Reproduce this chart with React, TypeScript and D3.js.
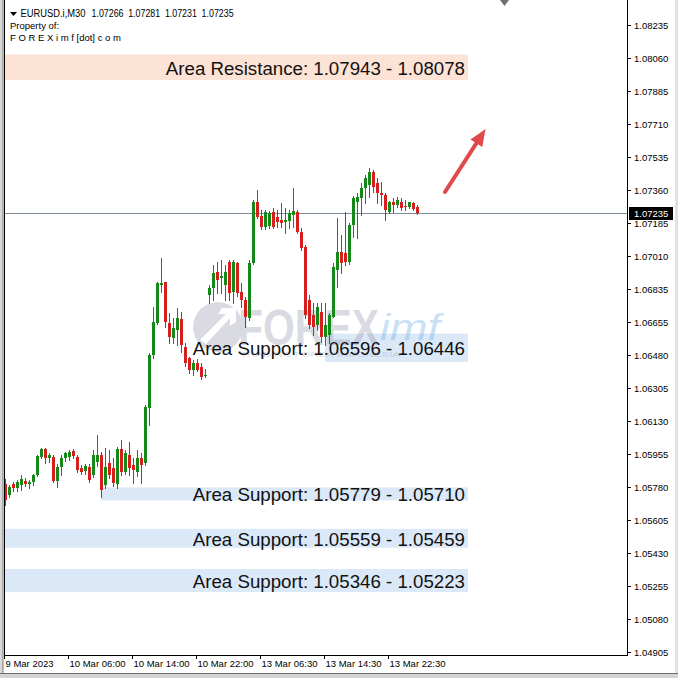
import * as d3 from "d3";

// EURUSD.i M30 candles (oldest first)
const opens = [
  1.05797, 1.05739, 1.05797, 1.05776, 1.05792, 1.05813, 1.05797, 1.05808, 1.05845, 1.05941,
  1.05983, 1.05936, 1.05941, 1.05813, 1.05888, 1.05936, 1.05941, 1.05973, 1.05941, 1.05882,
  1.05866, 1.05888, 1.05845, 1.05915, 1.05951, 1.05792, 1.05909, 1.05882, 1.05797, 1.05983,
  1.05861, 1.05951, 1.05899, 1.05861, 1.05936, 1.05909, 1.06201, 1.06482, 1.06652, 1.06854,
  1.06870, 1.06652, 1.06573, 1.06615, 1.06674, 1.06525, 1.06467, 1.06403, 1.06440, 1.06419,
  1.06371, 1.06801, 1.06838, 1.06923, 1.06891, 1.06854, 1.06976, 1.06817, 1.06971, 1.06817,
  1.06775, 1.06679, 1.06971, 1.07295, 1.07220, 1.07162, 1.07167, 1.07242, 1.07215, 1.07199,
  1.07189, 1.07194, 1.07226, 1.07242, 1.07136, 1.07056, 1.06775, 1.06695, 1.06642, 1.06711,
  1.06578, 1.06589, 1.06684, 1.06934, 1.07029, 1.07024, 1.06976, 1.07173, 1.07295, 1.07316,
  1.07369, 1.07385, 1.07454, 1.07396, 1.07343, 1.07332, 1.07242, 1.07295, 1.07279, 1.07295,
  1.07274, 1.07268, 1.07290, 1.07266,
];
const highs = [
  1.05824, 1.05792, 1.05808, 1.05819, 1.05845, 1.05829, 1.05819, 1.05850, 1.05951, 1.05989,
  1.05989, 1.05962, 1.05951, 1.05904, 1.05951, 1.05967, 1.05978, 1.05983, 1.05951, 1.05898,
  1.05904, 1.05904, 1.05978, 1.06058, 1.05967, 1.05989, 1.05978, 1.05936, 1.05994, 1.06031,
  1.05978, 1.06020, 1.05936, 1.05978, 1.05962, 1.06217, 1.06493, 1.06738, 1.06870, 1.06997,
  1.06870, 1.06705, 1.06679, 1.06732, 1.06711, 1.06546, 1.06472, 1.06456, 1.06461, 1.06440,
  1.06408, 1.06854, 1.06960, 1.06976, 1.06987, 1.06960, 1.06987, 1.06987, 1.06976, 1.06865,
  1.06791, 1.06987, 1.07306, 1.07359, 1.07252, 1.07252, 1.07247, 1.07263, 1.07252, 1.07290,
  1.07263, 1.07252, 1.07369, 1.07252, 1.07157, 1.07067, 1.06801, 1.06759, 1.06759, 1.06759,
  1.06759, 1.06706, 1.06971, 1.07210, 1.07120, 1.07242, 1.07183, 1.07327, 1.07343, 1.07396,
  1.07438, 1.07475, 1.07465, 1.07422, 1.07401, 1.07343, 1.07300, 1.07316, 1.07321, 1.07316,
  1.07306, 1.07295, 1.07295, 1.07281,
];
const lows = [
  1.05686, 1.05728, 1.05760, 1.05760, 1.05765, 1.05787, 1.05776, 1.05792, 1.05840, 1.05936,
  1.05909, 1.05914, 1.05808, 1.05781, 1.05845, 1.05920, 1.05925, 1.05936, 1.05861, 1.05851,
  1.05851, 1.05808, 1.05835, 1.05893, 1.05728, 1.05776, 1.05829, 1.05787, 1.05776, 1.05845,
  1.05851, 1.05845, 1.05803, 1.05840, 1.05803, 1.05899, 1.06111, 1.06466, 1.06647, 1.06817,
  1.06631, 1.06546, 1.06546, 1.06536, 1.06499, 1.06424, 1.06387, 1.06376, 1.06397, 1.06355,
  1.06366, 1.06759, 1.06775, 1.06812, 1.06812, 1.06775, 1.06775, 1.06759, 1.06796, 1.06738,
  1.06631, 1.06668, 1.06966, 1.07210, 1.07152, 1.07152, 1.07157, 1.07157, 1.07162, 1.07162,
  1.07130, 1.07157, 1.07162, 1.07130, 1.07040, 1.06679, 1.06626, 1.06589, 1.06615, 1.06552,
  1.06536, 1.06546, 1.06684, 1.06844, 1.06918, 1.06960, 1.06966, 1.07109, 1.07104, 1.07226,
  1.07290, 1.07322, 1.07348, 1.07290, 1.07279, 1.07199, 1.07236, 1.07242, 1.07268, 1.07252,
  1.07252, 1.07263, 1.07252, 1.07231,
];
const closes = [
  1.05712, 1.05781, 1.05776, 1.05808, 1.05824, 1.05797, 1.05808, 1.05845, 1.05946, 1.05983,
  1.05936, 1.05951, 1.05813, 1.05888, 1.05936, 1.05962, 1.05967, 1.05946, 1.05872, 1.05861,
  1.05893, 1.05819, 1.05951, 1.05951, 1.05765, 1.05888, 1.05845, 1.05803, 1.05983, 1.05861,
  1.05962, 1.05882, 1.05872, 1.05936, 1.05899, 1.06206, 1.06482, 1.06658, 1.06864, 1.06864,
  1.06658, 1.06578, 1.06626, 1.06679, 1.06536, 1.06440, 1.06403, 1.06440, 1.06403, 1.06366,
  1.06376, 1.06838, 1.06918, 1.06881, 1.06902, 1.06923, 1.06812, 1.06976, 1.06812, 1.06775,
  1.06685, 1.06971, 1.07295, 1.07215, 1.07162, 1.07242, 1.07237, 1.07162, 1.07189, 1.07183,
  1.07199, 1.07237, 1.07247, 1.07136, 1.07051, 1.06695, 1.06642, 1.06631, 1.06737, 1.06578,
  1.06642, 1.06695, 1.06950, 1.07029, 1.06971, 1.06976, 1.07173, 1.07316, 1.07321, 1.07369,
  1.07422, 1.07454, 1.07375, 1.07343, 1.07332, 1.07252, 1.07295, 1.07279, 1.07306, 1.07263,
  1.07271, 1.07295, 1.07258, 1.07235,
];

const priceTicks = [
  "1.08235", "1.08060", "1.07885", "1.07710", "1.07535", "1.07360", "1.07185",
  "1.07010", "1.06835", "1.06655", "1.06480", "1.06305", "1.06130", "1.05955",
  "1.05780", "1.05605", "1.05430", "1.05255", "1.05080", "1.04905",
];
const timeTickIndex = [0, 16, 32, 48, 64, 80, 96];
const timeTickLabels = [
  "9 Mar 2023", "10 Mar 06:00", "10 Mar 14:00", "10 Mar 22:00",
  "13 Mar 06:30", "13 Mar 14:30", "13 Mar 22:30",
];

// zones: label shows "first - second" in the order the chart prints them
const zoneNames = ["Area Resistance", "Area Support", "Area Support", "Area Support", "Area Support"];
const zoneFirst = [1.07943, 1.06596, 1.05779, 1.05559, 1.05346];
const zoneSecond = [1.08078, 1.06446, 1.0571, 1.05459, 1.05223];
const zoneStart = [-0.25, 80, 24, -0.25, -0.25];
const zoneKind = ["res", "sup", "sup", "sup", "sup"];

const symbol = "EURUSD.i,M30";
const ohlc = ["1.07266", "1.07281", "1.07231", "1.07235"];
const currentPrice = 1.07235;

// arrow annotation: [bar index, price]
const arrowFrom = [110, 1.07348];
const arrowTo = [119.6, 1.07665];

const W = 678;
const H = 678;
const left = 4;
const right = 627;
const bottom = 655;
const zoneEnd = 115.75;

const UP = "#138a17";
const DOWN = "#d61f1d";

export default function App() {
  const x = d3.scaleLinear().domain([0, 103]).range([5, 417]);
  const y = d3.scaleLinear().domain([1.04905, 1.08235]).range([652, 25]);
  const font = "'Liberation Sans', Arial, sans-serif";

  const ax = x(arrowFrom[0]);
  const ay = y(arrowFrom[1]);
  const bx = x(arrowTo[0]);
  const by = y(arrowTo[1]);
  const ang = Math.atan2(by - ay, bx - ax);
  const hl = 13;
  const hw = 7;
  const head = [
    [bx + Math.cos(ang) * 4, by + Math.sin(ang) * 4],
    [bx - Math.cos(ang) * hl + Math.sin(ang) * hw, by - Math.sin(ang) * hl - Math.cos(ang) * hw],
    [bx - Math.cos(ang) * hl - Math.sin(ang) * hw, by - Math.sin(ang) * hl + Math.cos(ang) * hw],
  ];

  return (
    <svg
      width={W}
      height={H}
      viewBox={`0 0 ${W} ${H}`}
      style={{ position: "absolute", left: 0, top: 0, display: "block" }}
      fontFamily={font}
    >
      <rect x={0} y={0} width={W} height={H} fill="#ffffff" />
      {/* window chrome */}
      <rect x={0} y={0} width={3} height={H} fill="#d8d8d8" />
      <line x1={3} y1={0} x2={3} y2={673} stroke="#7a7a7a" />
      <rect x={0} y={673} width={W} height={5} fill="#d4d4d4" />
      <line x1={0} y1={673.5} x2={W} y2={673.5} stroke="#6d6d6d" />
      <rect x={675} y={0} width={3} height={673} fill="#e2e2e2" />

      {/* zones */}
      {zoneNames.map((n, i) => {
        const hi = Math.max(zoneFirst[i], zoneSecond[i]);
        const lo = Math.min(zoneFirst[i], zoneSecond[i]);
        return (
          <rect
            key={"z" + i}
            x={x(zoneStart[i])}
            y={y(hi)}
            width={x(zoneEnd) - x(zoneStart[i])}
            height={y(lo) - y(hi)}
            fill={zoneKind[i] === "res" ? "#fde2d6" : "#dbe8f7"}
          />
        );
      })}

      {/* watermark */}
      <g opacity={0.32}>
        <circle cx={218} cy={327} r={25} fill="#8f93a8" />
        <path d="M200 340 L226 314 L218 314 L222 308 L236 308 L236 322 L230 326 L230 318 L206 344 Z" fill="#ffffff" />
        <text x={238} y={345} fontSize={50} fontWeight="bold" fill="#8f93a8" textLength={141} lengthAdjust="spacingAndGlyphs">
          FOREX
        </text>
        <text x={380} y={340} fontSize={36} fontStyle="italic" fill="#5aa2e6" textLength={60} lengthAdjust="spacingAndGlyphs">
          imf
        </text>
        <text x={240} y={357} fontSize={7} fill="#8f93a8" textLength={160} lengthAdjust="spacingAndGlyphs">
          TRADING FOREX INDONESIA
        </text>
      </g>

      {/* current price line */}
      <line x1={left} x2={right} y1={Math.round(y(currentPrice)) + 0.5} y2={Math.round(y(currentPrice)) + 0.5} stroke="#7b8c9c" />

      {/* candles */}
      {opens.map((o, i) => {
        const c = closes[i];
        const cx = Math.round(x(i)) + 0.5;
        const up = c >= o;
        const col = up ? UP : DOWN;
        const top = Math.round(y(Math.max(o, c)));
        const bot = Math.round(y(Math.min(o, c)));
        return (
          <g key={"c" + i}>
            <line x1={cx} x2={cx} y1={Math.round(y(highs[i]))} y2={Math.round(y(lows[i])) + 1} stroke={col} />
            <rect x={cx - 1.5} y={top} width={3} height={Math.max(1, bot - top)} fill={col} />
          </g>
        );
      })}

      {/* zone labels */}
      {zoneNames.map((n, i) => (
        <text
          key={"zl" + i}
          x={x(zoneEnd) - 3}
          y={(y(zoneFirst[i]) + y(zoneSecond[i])) / 2 + 1}
          textAnchor="end"
          dominantBaseline="central"
          fontSize={18.7}
          fill="#111"
        >
          {`${n}: ${zoneFirst[i].toFixed(5)} - ${zoneSecond[i].toFixed(5)}`}
        </text>
      ))}

      {/* arrow */}
      <line x1={ax} y1={ay} x2={bx - Math.cos(ang) * 6} y2={by - Math.sin(ang) * 6} stroke="#e04a4a" strokeWidth={4} strokeLinecap="round" />
      <polygon points={head.map((p) => p.join(",")).join(" ")} fill="#e04a4a" />

      {/* frame */}
      <line x1={left + 0.5} y1={0} x2={left + 0.5} y2={bottom} stroke="#000" />
      <line x1={left} y1={bottom + 0.5} x2={right} y2={bottom + 0.5} stroke="#000" />
      <line x1={right + 0.5} y1={0} x2={right + 0.5} y2={bottom + 1} stroke="#000" />
      <polygon points="500,0 509,0 504.5,6" fill="#6f6f6f" />

      {/* price axis */}
      {priceTicks.map((t) => {
        const yy = Math.round(y(+t)) + 0.5;
        return (
          <g key={"p" + t}>
            <line x1={right} x2={right + 4} y1={yy} y2={yy} stroke="#000" />
            <text x={634} y={yy} dominantBaseline="central" fontSize={9.5} fill="#000">
              {t}
            </text>
          </g>
        );
      })}
      <rect x={629} y={Math.round(y(currentPrice)) - 6} width={44} height={13} fill="#000" />
      <text x={634} y={Math.round(y(currentPrice)) + 0.5} dominantBaseline="central" fontSize={9.5} fill="#fff">
        {currentPrice.toFixed(5)}
      </text>

      {/* time axis */}
      {timeTickIndex.map((ti, k) => {
        const xx = Math.round(x(ti)) - 0.5;
        return (
          <g key={"t" + k}>
            <line x1={xx} x2={xx} y1={bottom} y2={bottom + 4} stroke="#000" />
            <text x={xx + 1} y={667} fontSize={9.5} fill="#000">
              {timeTickLabels[k]}
            </text>
          </g>
        );
      })}

      {/* header */}
      <polygon points="10,12 17,12 13.5,16" fill="#000" />
      <text x={20.5} y={17} fontSize={10} fill="#000" textLength={65} lengthAdjust="spacingAndGlyphs">
        {symbol}
      </text>
      {ohlc.map((v, k) => (
        <text key={"h" + k} x={91.5 + k * 36.7} y={17} fontSize={10} fill="#000" textLength={32} lengthAdjust="spacingAndGlyphs">
          {v}
        </text>
      ))}
      <text x={10} y={29} fontSize={9.5} fill="#000">
        Property of:
      </text>
      <text x={10} y={41} fontSize={9.5} fill="#000">
        F O R E X i m f [dot] c o m
      </text>
    </svg>
  );
}
